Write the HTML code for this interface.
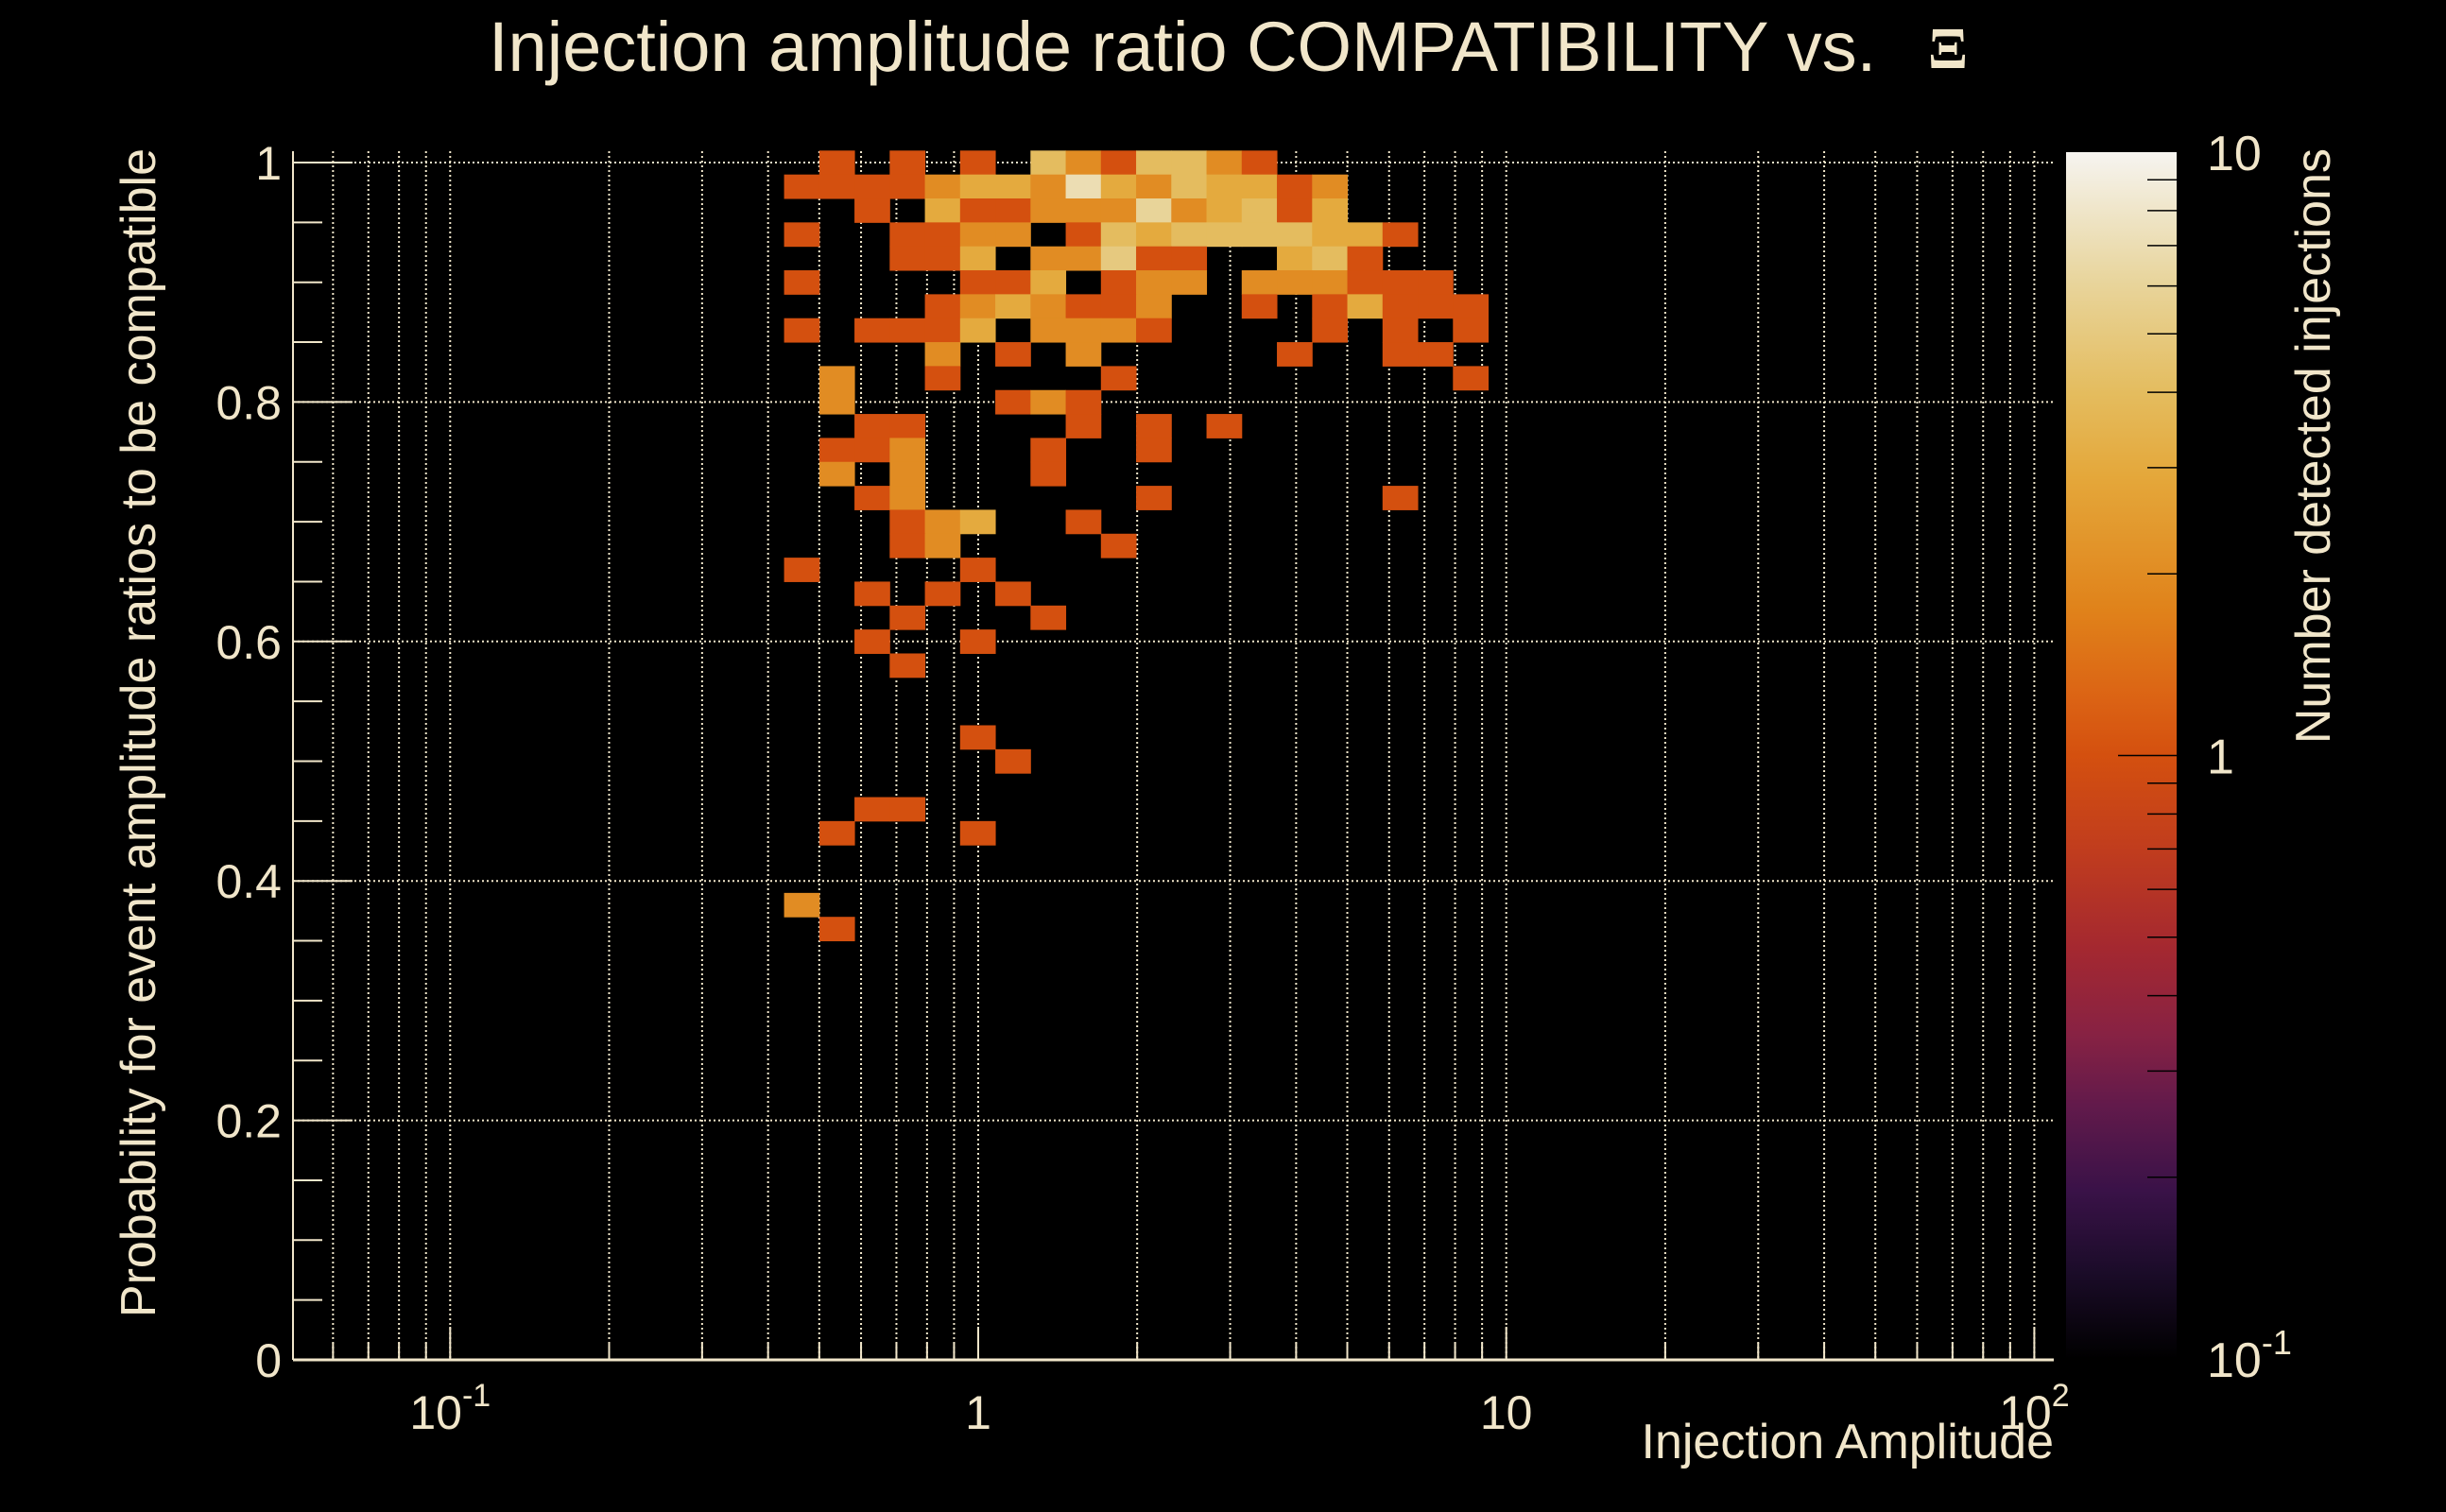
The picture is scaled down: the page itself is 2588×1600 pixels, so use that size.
<!DOCTYPE html>
<html><head><meta charset="utf-8">
<style>
html,body{margin:0;padding:0;background:#000;}
svg{display:block;}
text{font-family:"Liberation Sans",sans-serif;fill:#F1E6CA;}
</style></head>
<body>
<svg id="chart" width="2588" height="1600" viewBox="0 0 2588 1600" xmlns="http://www.w3.org/2000/svg">
  <rect x="0" y="0" width="2588" height="1600" fill="#000"/>
  <text x="517" y="75" font-size="74">Injection amplitude ratio COMPATIBILITY vs.</text>
  <text x="2040" y="72" font-size="62" font-weight="bold" style="font-family:'Liberation Serif',serif">Ξ</text>
  <g id="grid"></g>
  <g id="cells"></g>
  <g id="axes"></g>
  <g id="colorbar"></g>
  <text transform="translate(164,157) rotate(-90)" text-anchor="end" font-size="52">Probability for event amplitude ratios to be compatible</text>
  <text x="2173" y="1543" text-anchor="end" font-size="52">Injection Amplitude</text>
  <text transform="translate(2465,157) rotate(-90)" text-anchor="end" font-size="52">Number detected injections</text>
</svg>
<script>
// ---- data (bin index on log x axis, probability bin center, count) ----
const xBinEdgeMinLog = -1.301;   // log10(0.05)
const xBinsPerDecade = 15;
const yBinWidth = 0.02;
const cellBin = [
 15,17,19,21,22,23,24,25,26,27,
 14,15,16,17,18,19,20,21,22,23,24,25,26,27,28,29,
 16,18,19,20,21,22,23,24,25,26,27,28,29,
 14,17,18,19,20,22,23,24,25,26,27,28,29,30,31,
 17,18,19,21,22,23,24,25,28,29,30,
 14,19,20,21,23,24,25,27,28,29,30,31,32,
 18,19,20,21,22,23,24,27,29,30,31,32,33,
 14,16,17,18,19,21,22,23,24,29,31,33,
 18,20,22,28,31,32,
 15,18,23,33,
 15,20,21,22,
 16,17,22,24,26,
 15,16,17,21,24,
 15,17,21,
 16,17,24,31,
 17,18,19,22,
 17,18,23,
 14,19,
 16,18,20,
 17,21,
 16,19,
 17,
 19,
 20,
 16,17,
 15,19,
 14,
 15
];
const cellProb = [
 1.00,1.00,1.00,1.00,1.00,1.00,1.00,1.00,1.00,1.00,
 0.98,0.98,0.98,0.98,0.98,0.98,0.98,0.98,0.98,0.98,0.98,0.98,0.98,0.98,0.98,0.98,
 0.96,0.96,0.96,0.96,0.96,0.96,0.96,0.96,0.96,0.96,0.96,0.96,0.96,
 0.94,0.94,0.94,0.94,0.94,0.94,0.94,0.94,0.94,0.94,0.94,0.94,0.94,0.94,0.94,
 0.92,0.92,0.92,0.92,0.92,0.92,0.92,0.92,0.92,0.92,0.92,
 0.90,0.90,0.90,0.90,0.90,0.90,0.90,0.90,0.90,0.90,0.90,0.90,0.90,
 0.88,0.88,0.88,0.88,0.88,0.88,0.88,0.88,0.88,0.88,0.88,0.88,0.88,
 0.86,0.86,0.86,0.86,0.86,0.86,0.86,0.86,0.86,0.86,0.86,0.86,
 0.84,0.84,0.84,0.84,0.84,0.84,
 0.82,0.82,0.82,0.82,
 0.80,0.80,0.80,0.80,
 0.78,0.78,0.78,0.78,0.78,
 0.76,0.76,0.76,0.76,0.76,
 0.74,0.74,0.74,
 0.72,0.72,0.72,0.72,
 0.70,0.70,0.70,0.70,
 0.68,0.68,0.68,
 0.66,0.66,
 0.64,0.64,0.64,
 0.62,0.62,
 0.60,0.60,
 0.58,
 0.52,
 0.50,
 0.46,0.46,
 0.44,0.44,
 0.38,
 0.36
];
const cellCount = [
 1,1,1,4,2,1,4,4,2,1,
 1,1,1,1,2,3,3,2,7,3,2,4,3,3,1,2,
 1,3,1,1,2,2,2,6,2,3,4,1,3,
 1,1,1,2,2,1,4,3,4,4,4,4,3,3,1,
 1,1,3,2,2,5,1,1,3,4,1,
 1,1,1,3,1,2,2,2,2,2,1,1,1,
 1,2,3,2,1,1,2,1,1,3,1,1,1,
 1,1,1,1,3,2,2,2,1,1,1,1,
 2,1,2,1,1,1,
 2,1,1,1,
 2,1,2,1,
 1,1,1,1,1,
 1,1,2,1,1,
 2,2,1,
 1,2,1,1,
 1,2,3,1,
 1,2,1,
 1,1,
 1,1,1,
 1,1,
 1,1,
 1,
 1,
 1,
 1,1,
 1,1,
 2,
 1
];
const yTickValues = [0, 0.2, 0.4, 0.6, 0.8, 1];
const yTickLabels = ["0", "0.2", "0.4", "0.6", "0.8", "1"];
const xMajorValues = [0.1, 1, 10, 100];
const xMajorLabels = [["10","-1"], ["1",""], ["10",""], ["10","2"]];
const zTickValues = [0.1, 1, 10];
const zTickLabels = [["10","-1"], ["1",""], ["10",""]];

// ---- geometry ----
const NS = "http://www.w3.org/2000/svg";
const plotL = 310, plotR = 2173, plotT = 172, plotB = 1439;
const xMinLog = -1.301, xMaxLog = xMinLog + 50 / xBinsPerDecade;
const xLog = l => 1035 + l * 558.7;
const xScale = v => xLog(Math.log10(v));
const yScale = v => plotB - v * (plotB - plotT);
const cbL = 2186, cbR = 2303, cbT = 161, cbB = 1438;
const zScale = v => cbB - (Math.log10(v) + 1) / 2 * (cbB - cbT);

const stops = [
 [0,"#000000"],[0.074,"#1C0C2A"],[0.14,"#3A1248"],[0.21,"#621A4B"],[0.27,"#882243"],
 [0.34,"#A42830"],[0.42,"#C03C1E"],[0.5,"#D4500F"],[0.545,"#DB6214"],[0.62,"#E0821A"],
 [0.73,"#E4A73A"],[0.80,"#E4BC5E"],[0.89,"#E8D49A"],[0.95,"#EFE5C8"],[1,"#F6F4F0"]];
function hex(h){return [1,3,5].map(i=>parseInt(h.substr(i,2),16));}
function colorFor(v){
  let t = (Math.log10(v) + 1) / 2; t = Math.max(0, Math.min(1, t));
  for (let i=1;i<stops.length;i++){
    if (t <= stops[i][0]) {
      const a = stops[i-1], b = stops[i], f = (t-a[0])/(b[0]-a[0]);
      const ca = hex(a[1]), cb = hex(b[1]);
      return "rgb(" + ca.map((c,j)=>Math.round(c+(cb[j]-c)*f)).join(",") + ")";
    }
  }
  return stops[stops.length-1][1];
}
function mk(tag, attrs, parent){
  const e = document.createElementNS(NS, tag);
  for (const k in attrs) e.setAttribute(k, attrs[k]);
  parent.appendChild(e); return e;
}
const grid = document.getElementById("grid");
const cells = document.getElementById("cells");
const axes = document.getElementById("axes");
const cbar = document.getElementById("colorbar");
const cream = "#F1E6CA";

for (let k=-2;k<=2;k++) for (let m=1;m<=9;m++){
  const v = m*Math.pow(10,k), l = Math.log10(v);
  if (l < xMinLog || l > xMaxLog) continue;
  const x = xScale(v);
  const g = mk("line",{x1:x,x2:x,y1:plotT-12,y2:plotB,stroke:cream,"stroke-width":2,"stroke-dasharray":"2 3"},grid);
  
  
  const t = mk("line",{x1:x,x2:x,y1:plotB,y2:plotB-(m===1?35:18),stroke:cream,"stroke-width":2},axes);
  
  
}
yTickValues.forEach(v=>{
  const y = yScale(v);
  const g = mk("line",{x1:plotL,x2:plotR,y1:y,y2:y,stroke:cream,"stroke-width":2,"stroke-dasharray":"2 3"},grid);
  
  
});

for (let i=0;i<cellBin.length;i++){
  const l0 = xBinEdgeMinLog + cellBin[i]/xBinsPerDecade, l1 = l0 + 1/xBinsPerDecade;
  const x0 = xLog(l0), x1 = xLog(l1);
  const y0 = yScale(cellProb[i] + yBinWidth/2), y1 = yScale(cellProb[i] - yBinWidth/2);
  const r = mk("rect",{x:x0,y:y0,width:x1-x0+0.5,height:y1-y0+0.5,fill:colorFor(cellCount[i])},cells);
  
  
}

const ax = mk("line",{x1:plotL,x2:plotR,y1:plotB,y2:plotB,stroke:cream,"stroke-width":3},axes);


const ay = mk("line",{x1:plotL,x2:plotL,y1:plotT-12,y2:plotB,stroke:cream,"stroke-width":2},axes);


for (let i=0;i<=20;i++){
  const v = i*0.05, y = yScale(v);
  const t = mk("line",{x1:plotL,x2:plotL+(i%4===0?63:31),y1:y,y2:y,stroke:cream,"stroke-width":2},axes);
  
  
}
yTickValues.forEach((v,i)=>{
  const t = mk("text",{x:298,y:yScale(v)+18,"text-anchor":"end","font-size":50},axes);
  t.textContent = yTickLabels[i];
  
  
});
xMajorValues.forEach((v,i)=>{
  const t = mk("text",{x:xScale(v),y:1512,"text-anchor":"middle","font-size":50},axes);
  
  
  const a = mk("tspan",{},t); a.textContent = xMajorLabels[i][0];
  if (xMajorLabels[i][1]) { const b = mk("tspan",{dy:-24,"font-size":34},t); b.textContent = xMajorLabels[i][1]; }
});

const defs = mk("defs",{},cbar);
const grad = mk("linearGradient",{id:"cbgrad",x1:0,y1:1,x2:0,y2:0},defs);
stops.forEach(s=>mk("stop",{offset:s[0],"stop-color":s[1]},grad));
const cbRect = mk("rect",{x:cbL,y:cbT,width:cbR-cbL,height:cbB-cbT,fill:"url(#cbgrad)"},cbar);


for (let k=-1;k<=0;k++) for (let m=2;m<=9;m++){
  const y = zScale(m*Math.pow(10,k));
  const t = mk("line",{x1:cbR-31,x2:cbR,y1:y,y2:y,stroke:"#000","stroke-width":1.5},cbar);
  
  
}
{
  const y = zScale(1);
  const t = mk("line",{x1:cbR-62,x2:cbR,y1:y,y2:y,stroke:"#000","stroke-width":1.5},cbar);
  
  
}
zTickValues.forEach((v,i)=>{
  const t = mk("text",{x:2335,y:zScale(v)+19,"font-size":52},cbar);
  
  
  const a = mk("tspan",{},t); a.textContent = zTickLabels[i][0];
  if (zTickLabels[i][1]) { const b = mk("tspan",{dy:-24,"font-size":36},t); b.textContent = zTickLabels[i][1]; }
});
</script>
</body></html>
